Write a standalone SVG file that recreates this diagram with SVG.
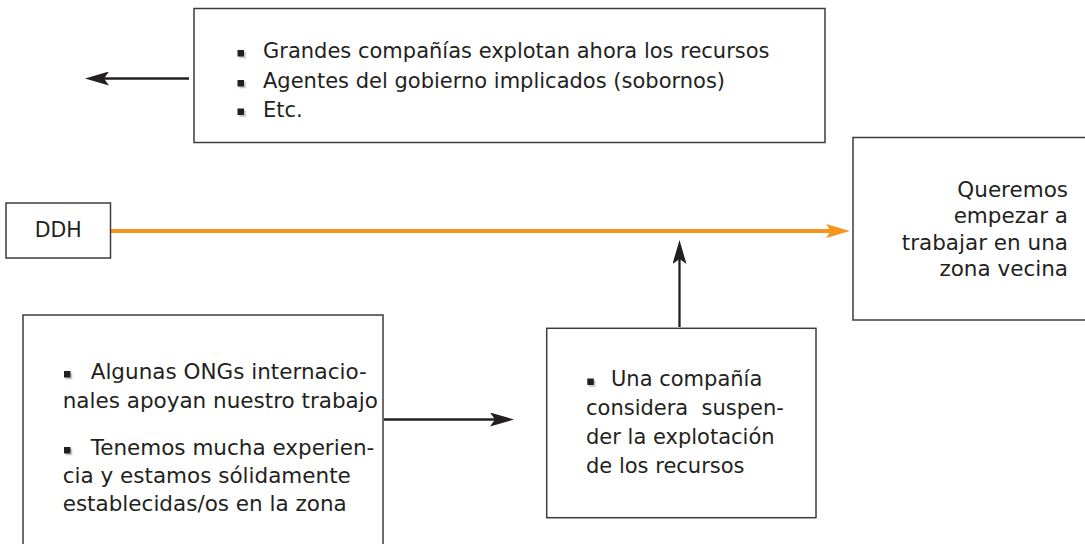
<svg xmlns="http://www.w3.org/2000/svg" xmlns:xlink="http://www.w3.org/1999/xlink" width="1085" height="544" viewBox="0 0 1085 544">
<style>
.box{fill:#fff;stroke:#3c3c3c;stroke-width:1.5}
.t{font-family:"DejaVu Sans",Verdana,sans-serif;fill:#231f20}
.k{stroke:#231f20;stroke-width:2.3;fill:none}
.o{stroke:#f7941d;stroke-width:4;fill:none}
</style>
<defs>
<marker id="ak" viewBox="0 0 24 14" refX="5" refY="7" markerWidth="24" markerHeight="14" markerUnits="userSpaceOnUse" orient="auto">
<path d="M0,0 L24,7 L0,14 L5,7 Z" fill="#231f20"/>
</marker>
<marker id="ao" viewBox="0 0 24 14" refX="5" refY="7" markerWidth="24" markerHeight="14" markerUnits="userSpaceOnUse" orient="auto">
<path d="M0,0 L24,7 L0,14 L5,7 Z" fill="#f7941d"/>
</marker>
<g id="bul">
<rect x="1.8" y="1.8" width="6.5" height="6.5" fill="#c8c8c8"/>
<rect x="0" y="0" width="6.5" height="6.5" fill="#231f20"/>
</g>
</defs>
<rect width="1085" height="544" fill="#fff"/>

<g id="connectors">
<path class="k" d="M189,78.5 H104" marker-end="url(#ak)"/>
<path class="o" d="M111,231 H831" marker-end="url(#ao)"/>
<path class="k" d="M384,419.5 H495" marker-end="url(#ak)"/>
<path class="k" d="M679.5,327 V259" marker-end="url(#ak)"/>
</g>

<g id="top-box">
<rect class="box" x="194" y="8.5" width="631" height="134"/>
<use xlink:href="#bul" x="237.5" y="50"/>
<use xlink:href="#bul" x="237.5" y="80"/>
<use xlink:href="#bul" x="237.5" y="108.5"/>
<text class="t" font-size="21" x="263" y="58.3">Grandes compañías explotan ahora los recursos</text>
<text class="t" font-size="21" x="263" y="88.3">Agentes del gobierno implicados (sobornos)</text>
<text class="t" font-size="21" x="263" y="116.7">Etc.</text>
</g>

<g id="ddh">
<rect class="box" x="6" y="203" width="104.5" height="55"/>
<text class="t" font-size="20.5" x="58.3" y="237" text-anchor="middle">DDH</text>
</g>

<g id="goal">
<rect class="box" x="853" y="137.5" width="260" height="182.5"/>
<text class="t" font-size="21.5" text-anchor="end"><tspan x="1068" y="197">Queremos</tspan><tspan x="1068" y="223">empezar a</tspan><tspan x="1068" y="249.5">trabajar en una</tspan><tspan x="1068" y="276">zona vecina</tspan></text>
</g>

<g id="strengths">
<rect class="box" x="23" y="315" width="360" height="240"/>
<use xlink:href="#bul" x="64" y="371"/>
<use xlink:href="#bul" x="64" y="447"/>
<text class="t" font-size="21.5"><tspan x="90.7" y="378.5">Algunas ONGs internacio-</tspan><tspan x="62.7" y="408">nales apoyan nuestro trabajo</tspan><tspan x="90.7" y="454.5">Tenemos mucha experien-</tspan><tspan x="62.7" y="483">cia y estamos sólidamente</tspan><tspan x="62.7" y="511">establecidas/os en la zona</tspan></text>
</g>

<g id="company">
<rect class="box" x="546.7" y="328.3" width="269.3" height="189.4"/>
<use xlink:href="#bul" x="587.3" y="378.5"/>
<text class="t" font-size="21"><tspan x="611" y="385.5">Una compañía</tspan><tspan x="586" y="414.5" xml:space="preserve">considera  suspen-</tspan><tspan x="586" y="443.5">der la explotación</tspan><tspan x="586" y="472.5">de los recursos</tspan></text>
</g>
</svg>
